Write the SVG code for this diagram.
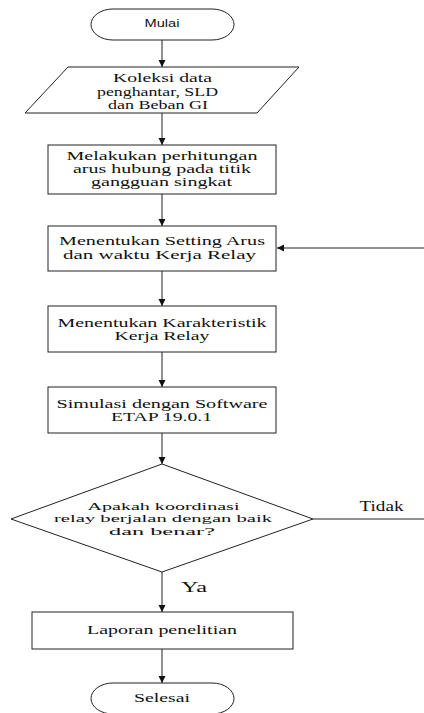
<svg xmlns="http://www.w3.org/2000/svg" width="424" height="713" viewBox="0 0 424 713">
<style>
.s{fill:#fff;stroke:#222;stroke-width:1}
.c{fill:none;stroke:#222;stroke-width:1}
.t{font-family:"Liberation Serif","Times New Roman",serif;font-size:12px;fill:#111;text-anchor:middle}
.d{font-size:11px}
.l{font-family:"Liberation Serif","Times New Roman",serif;font-size:14px;fill:#111}
.a{font-family:"Liberation Sans",Arial,sans-serif;font-size:10px;fill:#111;text-anchor:middle}
</style>
<defs>
<marker id="ar" markerWidth="8" markerHeight="8" refX="7" refY="4" orient="auto" markerUnits="userSpaceOnUse">
<path d="M0,0.5 L7,4 L0,7.5 Z" fill="#111"/>
</marker>
</defs>
<g id="connectors">
<line class="c" x1="162" y1="40" x2="162" y2="67" marker-end="url(#ar)"/>
<line class="c" x1="162" y1="113" x2="162" y2="145" marker-end="url(#ar)"/>
<line class="c" x1="162" y1="194" x2="162" y2="226" marker-end="url(#ar)"/>
<line class="c" x1="162" y1="271" x2="162" y2="306" marker-end="url(#ar)"/>
<line class="c" x1="162" y1="352" x2="162" y2="387" marker-end="url(#ar)"/>
<line class="c" x1="162" y1="433" x2="162" y2="464" marker-end="url(#ar)"/>
<line class="c" x1="162" y1="572" x2="162" y2="612" marker-end="url(#ar)"/>
<line class="c" x1="162" y1="649" x2="162" y2="683" marker-end="url(#ar)"/>
<path class="c" d="M313,519 H426 V248 H277" marker-end="url(#ar)"/>
<text class="l" x="359.5" y="511" textLength="44" lengthAdjust="spacingAndGlyphs">Tidak</text>
<text class="l" x="181" y="592" textLength="26" lengthAdjust="spacingAndGlyphs">Ya</text>
</g>
<g id="mulai">
<rect class="s" x="91" y="9" width="143" height="31" rx="22" ry="15.5"/>
<text class="a" x="162" y="27" textLength="35" lengthAdjust="spacingAndGlyphs">Mulai</text>
</g>
<g id="koleksi">
<polygon class="s" points="68,67 299,67 257,113 25,113"/>
<text class="t" x="162.5" y="82" textLength="99" lengthAdjust="spacingAndGlyphs">Koleksi data</text>
<text class="t" x="157.5" y="95.5" textLength="121" lengthAdjust="spacingAndGlyphs">penghantar, SLD</text>
<text class="t" x="158" y="108.5" textLength="100" lengthAdjust="spacingAndGlyphs">dan Beban GI</text>
</g>
<g id="perhitungan">
<rect class="s" x="48" y="145" width="228" height="49"/>
<text class="t" x="162" y="160" textLength="191" lengthAdjust="spacingAndGlyphs">Melakukan perhitungan</text>
<text class="t" x="162" y="173" textLength="178" lengthAdjust="spacingAndGlyphs">arus hubung pada titik</text>
<text class="t" x="161.5" y="185.5" textLength="141" lengthAdjust="spacingAndGlyphs">gangguan singkat</text>
</g>
<g id="setting">
<rect class="s" x="48" y="226" width="228" height="45"/>
<text class="t" x="162" y="245" textLength="206" lengthAdjust="spacingAndGlyphs">Menentukan Setting Arus</text>
<text class="t" x="159.5" y="258.5" textLength="193" lengthAdjust="spacingAndGlyphs">dan waktu  Kerja Relay</text>
</g>
<g id="karakteristik">
<rect class="s" x="48" y="306" width="228" height="46"/>
<text class="t" x="162" y="327" textLength="209" lengthAdjust="spacingAndGlyphs">Menentukan Karakteristik</text>
<text class="t" x="162" y="339.5" textLength="95" lengthAdjust="spacingAndGlyphs">Kerja Relay</text>
</g>
<g id="simulasi">
<rect class="s" x="48" y="387" width="228" height="46"/>
<text class="t" x="162" y="408" textLength="211" lengthAdjust="spacingAndGlyphs">Simulasi dengan Software</text>
<text class="t" x="161.5" y="420.5" textLength="101" lengthAdjust="spacingAndGlyphs">ETAP 19.0.1</text>
</g>
<g id="keputusan">
<polygon class="s" points="162,464 313,519 162,572 11,519"/>
<text class="t d" x="163.5" y="509.5" textLength="152" lengthAdjust="spacingAndGlyphs">Apakah koordinasi</text>
<text class="t d" x="163" y="522" textLength="218" lengthAdjust="spacingAndGlyphs">relay berjalan dengan baik</text>
<text class="t d" x="162" y="534.5" textLength="106" lengthAdjust="spacingAndGlyphs">dan benar?</text>
</g>
<g id="laporan">
<rect class="s" x="32" y="612" width="261" height="37"/>
<text class="t" x="162" y="633.5" textLength="150" lengthAdjust="spacingAndGlyphs">Laporan penelitian</text>
</g>
<g id="selesai">
<rect class="s" x="91" y="683" width="143" height="31" rx="22" ry="15.5"/>
<text class="t" x="162" y="702" textLength="56" lengthAdjust="spacingAndGlyphs">Selesai</text>
</g>
</svg>
